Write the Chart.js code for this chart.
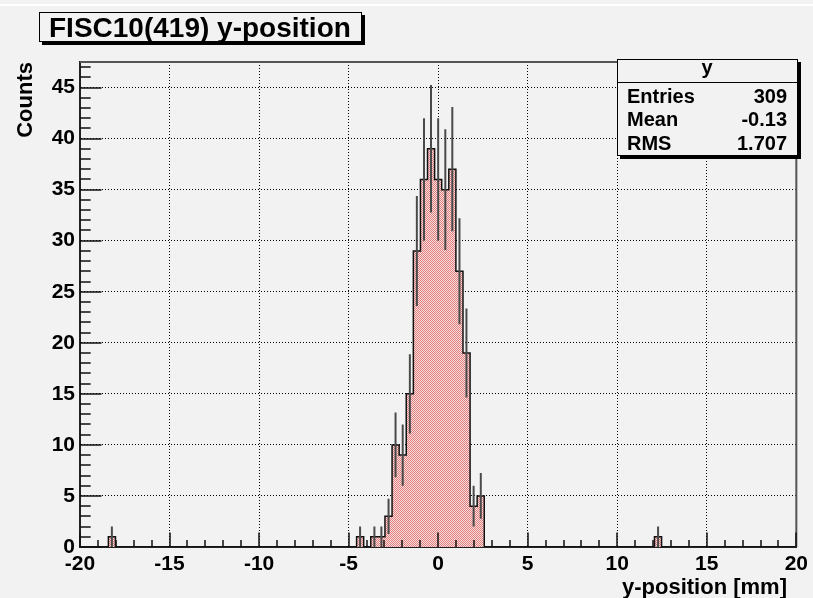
<!DOCTYPE html>
<html>
<head>
<meta charset="utf-8">
<script src="https://cdn.jsdelivr.net/npm/chart.js@4.4.1/dist/chart.umd.min.js"></script>
<style>
  html, body { margin: 0; padding: 0; background: #f2f2f2; }
  canvas { display: block; }
</style>
</head>
<body>
<canvas id="yposChart" width="813" height="598"></canvas>
<script>
const xMin = -20;
const xMax = 20;
const nBins = 101;
const yMax = 47.5;
const xTickStep = 5;
const yTickStep = 5;

// filled bins: centre (mm) and counts, everything else is empty
const binCenters = [-18.22, -4.36, -3.56, -3.17, -2.77, -2.38, -1.98, -1.58, -1.19, -0.79, -0.40, 0.00, 0.40, 0.79, 1.19, 1.58, 1.98, 2.38, 12.28];
const binCounts = [1, 1, 1, 1, 3, 10, 9, 15, 29, 36, 39, 36, 35, 37, 27, 19, 4, 5, 1];

const histTitle = 'FISC10(419) y-position';
const xTitle = 'y-position [mm]';
const yTitle = 'Counts';
const statsName = 'y';
const statsLabels = ['Entries', 'Mean', 'RMS'];
const statsValues = ['309', '-0.13', '1.707'];

const BG = '#f2f2f2';
const FONT = '"Liberation Sans", Arial, sans-serif';

const binWidth = (xMax - xMin) / nBins;
const fullCounts = new Array(nBins).fill(0);
binCenters.forEach((c, i) => {
    const k = Math.round((c - xMin) / binWidth - 0.5);
    fullCounts[k] = binCounts[i];
});

// step outline of the whole histogram
const outline = [{ x: xMin, y: 0 }];
fullCounts.forEach((n, k) => {
    const lo = xMin + k * binWidth;
    outline.push({ x: lo, y: n }, { x: lo + binWidth, y: n });
});
outline.push({ x: xMax, y: 0 });

// vertical error bars, sqrt(n), separated by gaps
const errorSegs = [];
binCenters.forEach((c, i) => {
    const n = binCounts[i];
    const e = Math.sqrt(n);
    errorSegs.push({ x: c, y: n - e }, { x: c, y: n + e }, { x: c, y: null });
});

const canvas = document.getElementById('yposChart');
const ctx0 = canvas.getContext('2d');

const makeHatch = () => {
    const c = document.createElement('canvas');
    c.width = 2;
    c.height = 2;
    const g = c.getContext('2d');
    g.fillStyle = '#f9e0e0';
    g.fillRect(0, 0, 2, 2);
    g.fillStyle = '#e07c7c';
    g.fillRect(0, 0, 1, 1);
    g.fillRect(1, 1, 1, 1);
    return ctx0.createPattern(c, 'repeat');
};

const background = {
    id: 'background',
    beforeDraw: (chart) => {
        const { ctx, width, height } = chart;
        ctx.save();
        ctx.fillStyle = BG;
        ctx.fillRect(0, 0, width, height);
        ctx.fillStyle = '#ffffff';
        ctx.fillRect(0, 4, width, 2);
        ctx.restore();
    }
};

const drawBox = (ctx, x, y, w, h) => {
    ctx.fillStyle = '#000';
    ctx.fillRect(x + 3, y + 3, w, h);
    ctx.fillStyle = BG;
    ctx.fillRect(x, y, w, h);
    ctx.strokeStyle = '#000';
    ctx.lineWidth = 1;
    ctx.strokeRect(x + 0.5, y + 0.5, w - 1, h - 1);
};

const rootDecor = {
    id: 'rootDecor',
    afterDraw: (chart) => {
        const { ctx } = chart;
        const { left, right, top, bottom } = chart.chartArea;
        const xs = chart.scales.x;
        const ys = chart.scales.y;
        ctx.save();

        // frame top / right
        ctx.strokeStyle = '#555';
        ctx.lineWidth = 2;
        ctx.beginPath();
        ctx.moveTo(left, top);
        ctx.lineTo(right, top);
        ctx.lineTo(right, bottom);
        ctx.stroke();

        // inward ticks
        ctx.strokeStyle = '#111';
        ctx.lineWidth = 1.5;
        ctx.beginPath();
        for (let v = xMin; v <= xMax; v += 1) {
            const px = Math.round(xs.getPixelForValue(v));
            const len = v % xTickStep === 0 ? 14.5 : 7;
            ctx.moveTo(px, bottom);
            ctx.lineTo(px, bottom - len);
        }
        for (let v = 0; v <= Math.floor(yMax); v += 1) {
            const py = Math.round(ys.getPixelForValue(v));
            const len = v % yTickStep === 0 ? 21.5 : 10.7;
            ctx.moveTo(left, py);
            ctx.lineTo(left + len, py);
        }
        ctx.stroke();

        // axis titles
        ctx.fillStyle = '#000';
        ctx.font = `bold 22px ${FONT}`;
        ctx.textAlign = 'right';
        ctx.textBaseline = 'alphabetic';
        ctx.fillText(xTitle, 787, 594);
        ctx.save();
        ctx.translate(32, 62);
        ctx.rotate(-Math.PI / 2);
        ctx.fillText(yTitle, 0, 0);
        ctx.restore();

        // title box
        drawBox(ctx, 39, 12, 323, 30);
        ctx.fillStyle = '#000';
        ctx.font = `bold 28px ${FONT}`;
        ctx.textAlign = 'left';
        ctx.fillText(histTitle, 49, 37);

        // stats box
        drawBox(ctx, 617, 59, 181, 97);
        ctx.strokeStyle = '#000';
        ctx.lineWidth = 1;
        ctx.beginPath();
        ctx.moveTo(617, 82.5);
        ctx.lineTo(798, 82.5);
        ctx.stroke();
        ctx.fillStyle = '#000';
        ctx.font = `bold 20px ${FONT}`;
        ctx.textAlign = 'center';
        ctx.fillText(statsName, 707, 74);
        statsLabels.forEach((label, i) => {
            const yy = 102.5 + i * 23.6;
            ctx.textAlign = 'left';
            ctx.fillText(label, 627, yy);
            ctx.textAlign = 'right';
            ctx.fillText(statsValues[i], 787, yy);
        });

        ctx.restore();
    }
};

Chart.defaults.font.family = FONT;
Chart.defaults.font.size = 20;
Chart.defaults.font.weight = 'bold';
Chart.defaults.color = '#000';

new Chart(canvas, {
    type: 'line',
    data: {
        datasets: [
            {
                label: 'errors',
                data: errorSegs,
                borderColor: '#4a4a4a',
                borderWidth: 2,
                pointRadius: 0,
                spanGaps: false,
                fill: false,
                order: 0
            },
            {
                label: 'y',
                data: outline,
                borderColor: '#111',
                borderWidth: 1.5,
                backgroundColor: makeHatch(),
                pointRadius: 0,
                tension: 0,
                fill: 'origin',
                order: 1
            }
        ]
    },
    options: {
        responsive: false,
        devicePixelRatio: 1,
        animation: false,
        layout: { padding: { top: 62, right: 16, left: 0, bottom: 0 } },
        plugins: {
            legend: { display: false },
            tooltip: { enabled: false },
            title: { display: false }
        },
        scales: {
            x: {
                type: 'linear',
                min: xMin,
                max: xMax,
                z: 1,
                afterFit: (scale) => { scale.height = 51; },
                ticks: { stepSize: xTickStep, maxRotation: 0, autoSkip: false, padding: 5, font: { size: 21, weight: 'bold' } },
                grid: { color: '#000', lineWidth: 1, drawTicks: false },
                border: { display: true, color: '#222', width: 2, dash: [1, 2] }
            },
            y: {
                type: 'linear',
                min: 0,
                max: yMax,
                z: 1,
                afterFit: (scale) => { scale.width = 80; },
                afterBuildTicks: (scale) => {
                    scale.ticks = scale.ticks.filter((t) => t.value % yTickStep === 0);
                },
                ticks: { stepSize: yTickStep, padding: 5, font: { size: 21, weight: 'bold' } },
                grid: { color: '#000', lineWidth: 1, drawTicks: false },
                border: { display: true, color: '#222', width: 2, dash: [1, 2] }
            }
        }
    },
    plugins: [background, rootDecor]
});
</script>
</body>
</html>
